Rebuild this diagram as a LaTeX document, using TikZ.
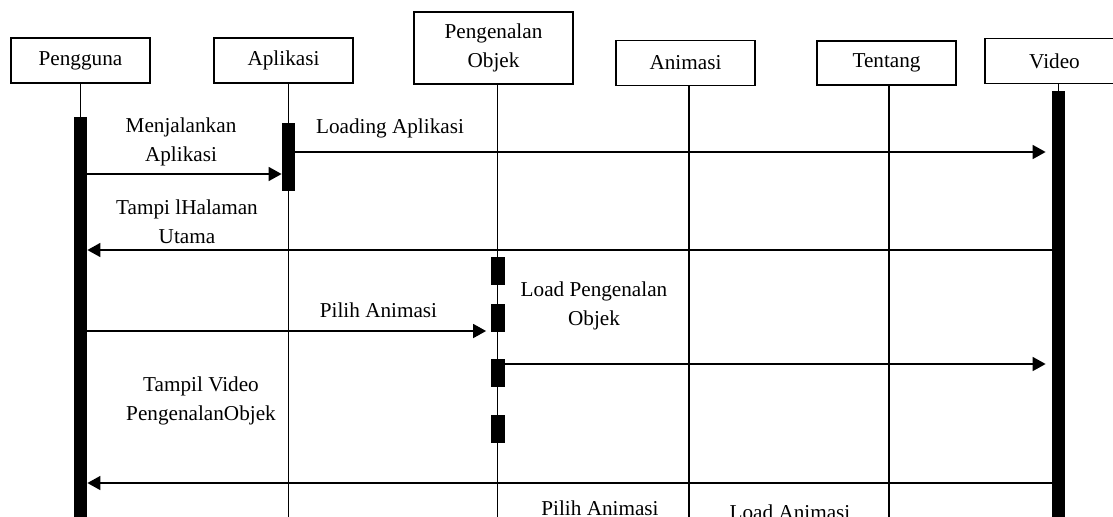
\documentclass[tikz,border=0pt]{standalone}
\usepackage{fontspec}
\setmainfont{Liberation Serif}
\usetikzlibrary{arrows.meta}

\begin{document}
\begin{tikzpicture}[x=0.5pt,y=-0.5pt,>={Triangle[length=6.5pt,width=7pt]},
      every node/.style={font=\fontsize{10.6}{14.5}\selectfont},
      obj/.style={draw,line width=0.85pt,minimum width=69.5pt,minimum height=22.5pt,
        inner sep=0pt,align=center},
      bar/.style={fill=black,inner sep=0pt,minimum width=6.5pt},
      life/.style={line width=0.65pt},
      msg/.style={->,line width=0.8pt},
      lbl/.style={align=center}]

      \useasboundingbox (0,0) rectangle (1113,516);

      \node[obj] (pengguna) at (80.5,60.5) {Pengguna};
      \node[obj] (aplikasi) at (283.5,60.5) {Aplikasi};
      \node[obj,minimum width=79.5pt,minimum height=36pt] (pengenalan) at (493.5,48) {Pengenalan\\Objek};
      \node[obj] (animasi) at (685.5,63) {Animasi};
      \node[obj,minimum height=22pt] (tentang) at (886.5,63) {Tentang};
      \node[obj] (video) at (1054.5,61) {Video};

      \node[bar,minimum height=206.5pt] (pgBar) at (80.5,323.5) {};
      \node[bar,minimum height=34pt] (aplBar) at (288.5,157) {};
      \node[bar,minimum height=219.5pt] (vidBar) at (1058.5,310.5) {};
      \foreach \y [count=\i] in {271,317.5,373,429}
        \node[bar,minimum width=7pt,minimum height=14pt] (pgn\i) at (497.5,\y) {};

      \coordinate (bottom) at (0,530);
      \draw[life] (pengguna.south -| pgBar) -- (pgBar.north);
      \draw[life] (aplikasi.south -| aplBar) -- (aplBar |- bottom);
      \draw[life] (pengenalan.south -| pgn1) -- (pgn1 |- bottom);
      \draw[life] (animasi.south -| 689,0) -- (689,0 |- bottom);
      \draw[life] (tentang.south -| 889,0) -- (889,0 |- bottom);
      \draw[life] (video.south -| vidBar) -- (vidBar.north);

      \coordinate (m1) at (0,174);
      \coordinate (m2) at (0,152);
      \coordinate (m3) at (0,250);
      \coordinate (m4) at (0,331);
      \coordinate (m5) at (0,364);
      \coordinate (m6) at (0,483);

      \draw[msg] (pgBar.east |- m1) -- (aplBar.west |- m1);
      \draw[msg,shorten >=3pt] (aplBar.east |- m2) -- (vidBar.west |- m2);
      \draw[msg] (vidBar.west |- m3) -- (pgBar.east |- m3);
      \draw[msg,shorten >=2pt] (pgBar.east |- m4) -- (pgn2.west |- m4);
      \draw[msg,shorten >=3pt] (pgn3.east |- m5) -- (vidBar.west |- m5);
      \draw[msg] (vidBar.west |- m6) -- (pgBar.east |- m6);

      \node[lbl] (lMenjalankan) at (181,142) {Menjalankan\\Aplikasi};
      \node[lbl] (lLoading) at (390,128) {Loading Aplikasi};
      \node[lbl] (lHalaman) at (187,222) {Tampi lHalaman\\Utama};
      \node[lbl] (lPilih) at (378.5,310) {Pilih Animasi};
      \node[lbl] (lLoadPg) at (594,305.5) {Load Pengenalan\\Objek};
      \node[lbl] (lVideo) at (201,401) {Tampil Video\\PengenalanObjek};
      \node[lbl] (lPilihBawah) at (600,508) {Pilih Animasi};
      \node[lbl] (lLoadAni) at (790,512) {Load Animasi};
    \end{tikzpicture}
\end{document}
